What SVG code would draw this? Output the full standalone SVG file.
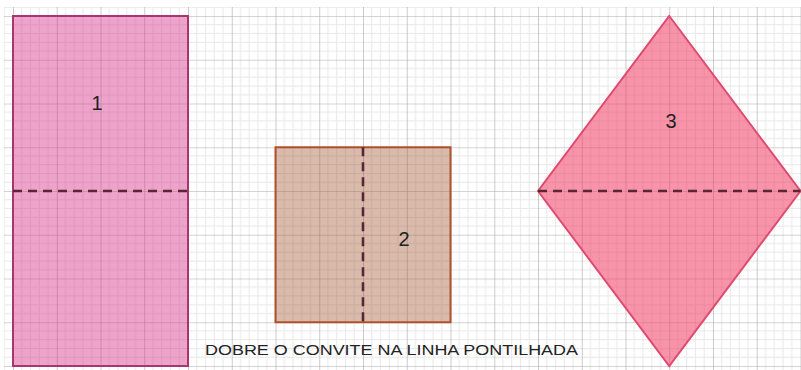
<svg xmlns="http://www.w3.org/2000/svg" width="801" height="370" viewBox="0 0 801 370">
<defs>
<pattern id="grid" patternUnits="userSpaceOnUse" x="13" y="16" width="43.75" height="43.75">
<path d="M8.75 0V43.75M17.5 0V43.75M26.25 0V43.75M35 0V43.75M0 8.75H43.75M0 17.5H43.75M0 26.25H43.75M0 35H43.75" stroke="#e8e8e8" stroke-width="1" fill="none"/>
<path d="M0 0V43.75M0 0H43.75" stroke="#a9a9a9" stroke-width="1.2" fill="none"/>
</pattern>
<style>
.fold{stroke:#5a2636;stroke-width:2.6;stroke-dasharray:9 6;fill:none}
.lbl{font-family:"Liberation Sans",Arial,sans-serif;font-size:20px;fill:#222;text-anchor:middle}
.note{font-family:"Liberation Sans",Arial,sans-serif;font-size:15px;fill:#222}
</style>
</defs>
<rect width="801" height="370" fill="#ffffff"/>
<rect x="4" y="7" width="797" height="363" fill="url(#grid)"/>
<g id="shape1">
<rect x="13" y="16" width="175" height="350" fill="#d6338a" fill-opacity="0.45" stroke="#a8356e" stroke-width="2"/>
<text class="lbl" x="97" y="110">1</text>
</g>
<g id="shape2">
<rect x="275.5" y="147.25" width="175" height="175" fill="#a0522d" fill-opacity="0.4" stroke="#b0502a" stroke-width="2"/>
<text class="lbl" x="404" y="246">2</text>
</g>
<g id="shape3">
<polygon points="669.25,16 800.5,191 669.25,366 538,191" fill="#f03c64" fill-opacity="0.55" stroke="#e04a70" stroke-width="2"/>
<text class="lbl" x="671" y="128">3</text>
</g>
<g id="connectors">
<line class="fold" x1="13" y1="191" x2="188" y2="191"/>
<line class="fold" x1="363" y1="147.25" x2="363" y2="322.25"/>
<line class="fold" x1="538" y1="191" x2="800.5" y2="191"/>
</g>
<text class="note" x="205" y="355" textLength="373" lengthAdjust="spacingAndGlyphs">DOBRE O CONVITE NA LINHA PONTILHADA</text>
</svg>
